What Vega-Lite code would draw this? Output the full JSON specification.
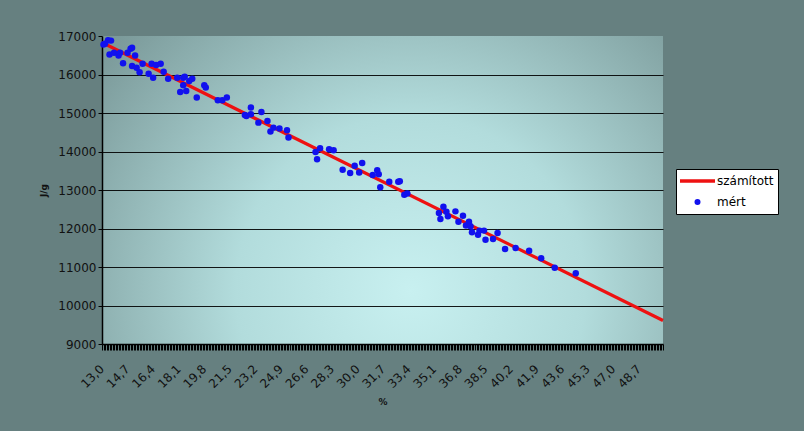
{
  "$schema": "https://vega.github.io/schema/vega-lite/v6.json",
  "width": 561,
  "height": 308,
  "autosize": {"type": "none"},
  "padding": {"left": 102, "top": 36, "right": 141, "bottom": 87},
  "background": "#668080",
  "config": {
    "font": "DejaVu Sans",
    "view": {
      "stroke": null,
      "fill": {
        "gradient": "radial",
        "x1": 0.55, "y1": 0.68, "r1": 0,
        "x2": 0.55, "y2": 0.68, "r2": 0.78,
        "stops": [
          {"offset": 0, "color": "#c8f0f0"},
          {"offset": 0.4, "color": "#b2dcdc"},
          {"offset": 1, "color": "#6e8a8a"}
        ]
      }
    }
  },
  "datasets": {
    "calc": [
      {"x": 13.0, "y": 16830},
      {"x": 50.3, "y": 9610}
    ],
    "meas": [
      {"x": 13.1, "y": 16780}, {"x": 13.2, "y": 16800}, {"x": 13.4, "y": 16890}, {"x": 13.6, "y": 16880},
      {"x": 13.5, "y": 16520}, {"x": 13.8, "y": 16565}, {"x": 14.1, "y": 16495}, {"x": 14.2, "y": 16565},
      {"x": 14.4, "y": 16290}, {"x": 14.7, "y": 16565}, {"x": 14.9, "y": 16670}, {"x": 15.0, "y": 16695},
      {"x": 15.2, "y": 16495}, {"x": 15.0, "y": 16220}, {"x": 15.3, "y": 16175}, {"x": 15.5, "y": 16060},
      {"x": 15.7, "y": 16280}, {"x": 16.1, "y": 16020}, {"x": 16.4, "y": 15915}, {"x": 16.3, "y": 16280},
      {"x": 16.6, "y": 16245}, {"x": 16.9, "y": 16280}, {"x": 17.1, "y": 16070}, {"x": 17.4, "y": 15890},
      {"x": 18.0, "y": 15915}, {"x": 18.2, "y": 15545}, {"x": 18.4, "y": 15915}, {"x": 18.5, "y": 15945},
      {"x": 18.4, "y": 15720}, {"x": 18.6, "y": 15570}, {"x": 18.8, "y": 15830}, {"x": 19.0, "y": 15890},
      {"x": 19.3, "y": 15400}, {"x": 19.8, "y": 15720}, {"x": 19.9, "y": 15660}, {"x": 20.7, "y": 15330},
      {"x": 21.0, "y": 15330}, {"x": 21.3, "y": 15400}, {"x": 22.5, "y": 14950}, {"x": 22.6, "y": 14920},
      {"x": 22.9, "y": 15140}, {"x": 22.9, "y": 14965}, {"x": 23.4, "y": 14750}, {"x": 23.6, "y": 15025},
      {"x": 24.0, "y": 14790}, {"x": 24.2, "y": 14520}, {"x": 24.4, "y": 14620}, {"x": 24.8, "y": 14595},
      {"x": 25.3, "y": 14550}, {"x": 25.4, "y": 14365},
      {"x": 27.2, "y": 13990}, {"x": 27.5, "y": 14085}, {"x": 27.3, "y": 13800}, {"x": 28.1, "y": 14060},
      {"x": 28.4, "y": 14035}, {"x": 29.0, "y": 13525}, {"x": 29.5, "y": 13440}, {"x": 29.8, "y": 13630},
      {"x": 30.1, "y": 13455}, {"x": 30.3, "y": 13700}, {"x": 31.0, "y": 13390}, {"x": 31.3, "y": 13515},
      {"x": 31.4, "y": 13410}, {"x": 31.5, "y": 13070}, {"x": 32.1, "y": 13215}, {"x": 32.7, "y": 13215},
      {"x": 32.8, "y": 13225}, {"x": 33.1, "y": 12875}, {"x": 33.3, "y": 12910}, {"x": 35.4, "y": 12400},
      {"x": 35.7, "y": 12565}, {"x": 35.5, "y": 12245}, {"x": 35.9, "y": 12435}, {"x": 36.0, "y": 12315},
      {"x": 36.5, "y": 12445}, {"x": 36.7, "y": 12175}, {"x": 37.0, "y": 12330}, {"x": 37.2, "y": 12075},
      {"x": 37.4, "y": 12175}, {"x": 37.5, "y": 12060}, {"x": 37.6, "y": 11905}, {"x": 38.0, "y": 11835},
      {"x": 38.1, "y": 11945}, {"x": 38.4, "y": 11945}, {"x": 38.5, "y": 11710}, {"x": 39.0, "y": 11730},
      {"x": 39.3, "y": 11885}, {"x": 39.8, "y": 11470}, {"x": 40.5, "y": 11495}, {"x": 41.4, "y": 11420},
      {"x": 42.2, "y": 11230}, {"x": 43.1, "y": 10980}, {"x": 44.5, "y": 10840}
    ]
  },
  "encoding": {
    "x": {
      "field": "x",
      "type": "quantitative",
      "scale": {"domain": [13.0, 50.3], "nice": false, "zero": false},
      "axis": {
        "title": "%",
        "titleFontSize": 9,
        "titleFontWeight": "bold",
        "titleColor": "#111111",
        "titlePadding": 8,
        "ticks": true,
        "tickCount": 373,
        "labelExpr": "(abs(round(datum.value*10) - 130) % 17 == 0) ? replace(format(datum.value, '.1f'), '.', ',') : ''",
        "labelAngle": -45,
        "labelOverlap": false,
        "labelFlush": false,
        "labelBound": false,
        "labelFontSize": 12,
        "labelColor": "#111111",
        "labelPadding": 13,
        "labelOffset": -4,
        "tickColor": "#000000",
        "tickOpacity": 1,
        "tickSize": 6,
        "tickWidth": 1,
        "domainColor": "#000000",
        "domainWidth": 1.5,
        "grid": false
      }
    },
    "y": {
      "field": "y",
      "type": "quantitative",
      "scale": {"domain": [9000, 17000], "nice": false, "zero": false},
      "axis": {
        "title": "J/g",
        "titleFontSize": 9,
        "titleFontWeight": "bold",
        "titleColor": "#111111",
        "titlePadding": 9,
        "values": [9000, 10000, 11000, 12000, 13000, 14000, 15000, 16000, 17000],
        "format": "d",
        "labelFontSize": 12,
        "labelColor": "#111111",
        "labelPadding": 2,
        "tickColor": "#000000",
        "tickSize": 4,
        "domainColor": "#000000",
        "domainWidth": 1.5,
        "grid": true,
        "gridColor": {"condition": {"test": "datum.value == 17000 || datum.value == 9000", "value": "transparent"}, "value": "#000000"},
        "gridOpacity": 0.9,
        "gridWidth": 1
      }
    }
  },
  "layer": [
    {
      "data": {"name": "calc"},
      "mark": {"type": "line", "strokeWidth": 3.2},
      "encoding": {
        "color": {
          "datum": "számított",
          "type": "nominal",
          "scale": {"domain": ["számított", "mért"], "range": ["#ee1111", "#1111ee"]},
          "legend": {
            "title": null,
            "orient": "none",
            "legendX": 574,
            "legendY": 133,
            "fillColor": "#ffffff",
            "strokeColor": "#000000",
            "padding": 4,
            "clipHeight": 16,
            "rowPadding": 5,
            "labelFontSize": 12,
            "labelColor": "#000000",
            "encode": {
              "symbols": {
                "update": {
                  "x": {"value": 17.5},
                  "shape": {"signal": "datum.value === 'mért' ? 'circle' : 'stroke'"},
                  "size": {"signal": "datum.value === 'mért' ? 36 : 1225"},
                  "strokeWidth": {"signal": "datum.value === 'mért' ? 0 : 3.5"},
                  "fill": {"signal": "datum.value === 'mért' ? '#1111ee' : 'transparent'"},
                  "stroke": {"signal": "datum.value === 'mért' ? 'transparent' : '#dd1111'"}
                }
              },
              "labels": {
                "update": {
                  "x": {"value": 37}
                }
              }
            }
          }
        }
      }
    },
    {
      "data": {"name": "meas"},
      "mark": {"type": "point", "filled": true, "size": 42, "opacity": 1},
      "encoding": {
        "color": {"datum": "mért", "type": "nominal"}
      }
    }
  ]
}
